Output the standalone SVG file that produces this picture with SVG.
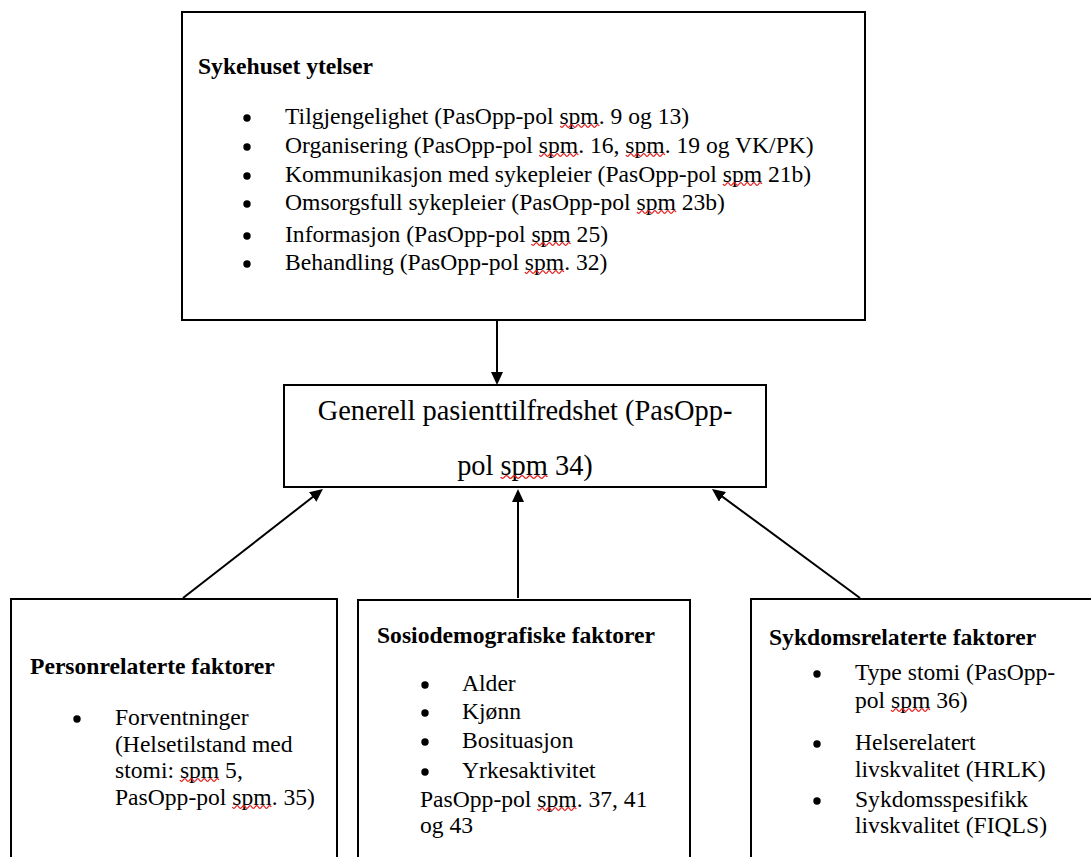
<svg xmlns="http://www.w3.org/2000/svg" xmlns:xlink="http://www.w3.org/1999/xlink" width="1091" height="857" viewBox="0 0 1091 857">
<style>
.box{fill:#fff;stroke:#000;stroke-width:2}
.t{font-family:"Liberation Serif","Times New Roman",serif;font-size:23.6px;fill:#000}
.b{font-weight:bold}
.m{font-size:28.4px}
.c{stroke:#000;stroke-width:2;fill:none;marker-end:url(#ah)}
.sq{fill:none;stroke:#e32020;stroke-width:1.3}
.bl{fill:#000}
</style>
<defs>
<marker id="ah" viewBox="0 0 13 12" refX="9" refY="6" markerWidth="13" markerHeight="12" markerUnits="userSpaceOnUse" orient="auto">
<path d="M0,0 L13,6 L0,12 z" fill="#000"/>
</marker>
<path id="sq" d="M0,0 q1.6,2.6 3.25,0 t3.25,0 t3.25,0 t3.25,0 t3.25,0 t3.25,0 t3.25,0 t3.25,0 t3.25,0 t3.25,0 t3.25,0 t3.25,0"/>
<circle id="dot" r="3.7"/>
</defs>
<rect width="1091" height="857" fill="#fff"/>
<g id="connectors">
<path class="c" d="M497,320 L497,381"/>
<path class="c" d="M183,598 L319.8,491.5"/>
<path class="c" d="M518,598 L518,493"/>
<path class="c" d="M860,598 L715.2,491.4"/>
</g>
<g id="sykehuset">
<rect class="box" x="182" y="12" width="683" height="308"/>
<text class="t b" x="198" y="74">Sykehuset ytelser</text>
<g class="bl">
<use xlink:href="#dot" x="247" y="118"/><use xlink:href="#dot" x="247" y="147"/><use xlink:href="#dot" x="247" y="176"/>
<use xlink:href="#dot" x="247" y="204"/><use xlink:href="#dot" x="247" y="236"/><use xlink:href="#dot" x="247" y="264"/>
</g>
<text class="t" x="285" y="124">Tilgjengelighet (PasOpp-pol spm. 9 og 13)</text>
<text class="t" x="285" y="153">Organisering (PasOpp-pol spm. 16, spm. 19 og VK/PK)</text>
<text class="t" x="285" y="182">Kommunikasjon med sykepleier (PasOpp-pol spm 21b)</text>
<text class="t" x="285" y="210">Omsorgsfull sykepleier (PasOpp-pol spm 23b)</text>
<text class="t" x="285" y="242">Informasjon (PasOpp-pol spm 25)</text>
<text class="t" x="285" y="270">Behandling (PasOpp-pol spm. 32)</text>
<g class="sq">
<use xlink:href="#sq" x="560.3" y="126"/>
<use xlink:href="#sq" x="539.3" y="155"/>
<use xlink:href="#sq" x="625.9" y="155"/>
<use xlink:href="#sq" x="722.9" y="184"/>
<use xlink:href="#sq" x="637" y="212"/>
<use xlink:href="#sq" x="531.5" y="244"/>
<use xlink:href="#sq" x="524.9" y="272"/>
</g>
</g>
<g id="generell">
<rect class="box" x="284" y="385" width="482" height="102"/>
<text class="t m" x="525" y="420" text-anchor="middle">Generell pasienttilfredshet (PasOpp-</text>
<text class="t m" x="525" y="475" text-anchor="middle">pol spm 34)</text>
<g class="sq"><use xlink:href="#sq" transform="translate(500.6,477) scale(1.2,1)"/></g>
</g>
<g id="personrelaterte">
<rect class="box" x="11" y="599" width="326" height="280"/>
<text class="t b" x="30" y="674">Personrelaterte faktorer</text>
<g class="bl"><use xlink:href="#dot" x="77" y="719"/></g>
<text class="t" x="115" y="725">Forventninger</text>
<text class="t" x="115" y="752">(Helsetilstand med</text>
<text class="t" x="115" y="778">stomi: spm 5,</text>
<text class="t" x="115" y="805">PasOpp-pol spm. 35)</text>
<g class="sq"><use xlink:href="#sq" x="179.9" y="780"/><use xlink:href="#sq" x="232.3" y="807"/></g>
</g>
<g id="sosiodemografiske">
<rect class="box" x="358" y="600" width="332" height="280"/>
<text class="t b" x="377" y="643">Sosiodemografiske faktorer</text>
<g class="bl">
<use xlink:href="#dot" x="425" y="685"/><use xlink:href="#dot" x="425" y="713"/><use xlink:href="#dot" x="425" y="742"/><use xlink:href="#dot" x="425" y="772"/>
</g>
<text class="t" x="462" y="691">Alder</text>
<text class="t" x="462" y="719">Kjønn</text>
<text class="t" x="462" y="748">Bosituasjon</text>
<text class="t" x="462" y="778">Yrkesaktivitet</text>
<text class="t" x="420" y="807">PasOpp-pol spm. 37, 41</text>
<text class="t" x="420" y="833">og 43</text>
<g class="sq"><use xlink:href="#sq" x="537.3" y="809"/></g>
</g>
<g id="sykdomsrelaterte">
<rect class="box" x="751" y="599" width="360" height="280"/>
<text class="t b" x="769" y="645">Sykdomsrelaterte faktorer</text>
<g class="bl">
<use xlink:href="#dot" x="817" y="674"/><use xlink:href="#dot" x="817" y="744"/><use xlink:href="#dot" x="817" y="801"/>
</g>
<text class="t" x="855" y="680">Type stomi (PasOpp-</text>
<text class="t" x="855" y="708">pol spm 36)</text>
<text class="t" x="855" y="750">Helserelatert</text>
<text class="t" x="855" y="777">livskvalitet (HRLK)</text>
<text class="t" x="855" y="807">Sykdomsspesifikk</text>
<text class="t" x="855" y="833">livskvalitet (FIQLS)</text>
<g class="sq"><use xlink:href="#sq" x="891" y="710"/></g>
</g>
</svg>
